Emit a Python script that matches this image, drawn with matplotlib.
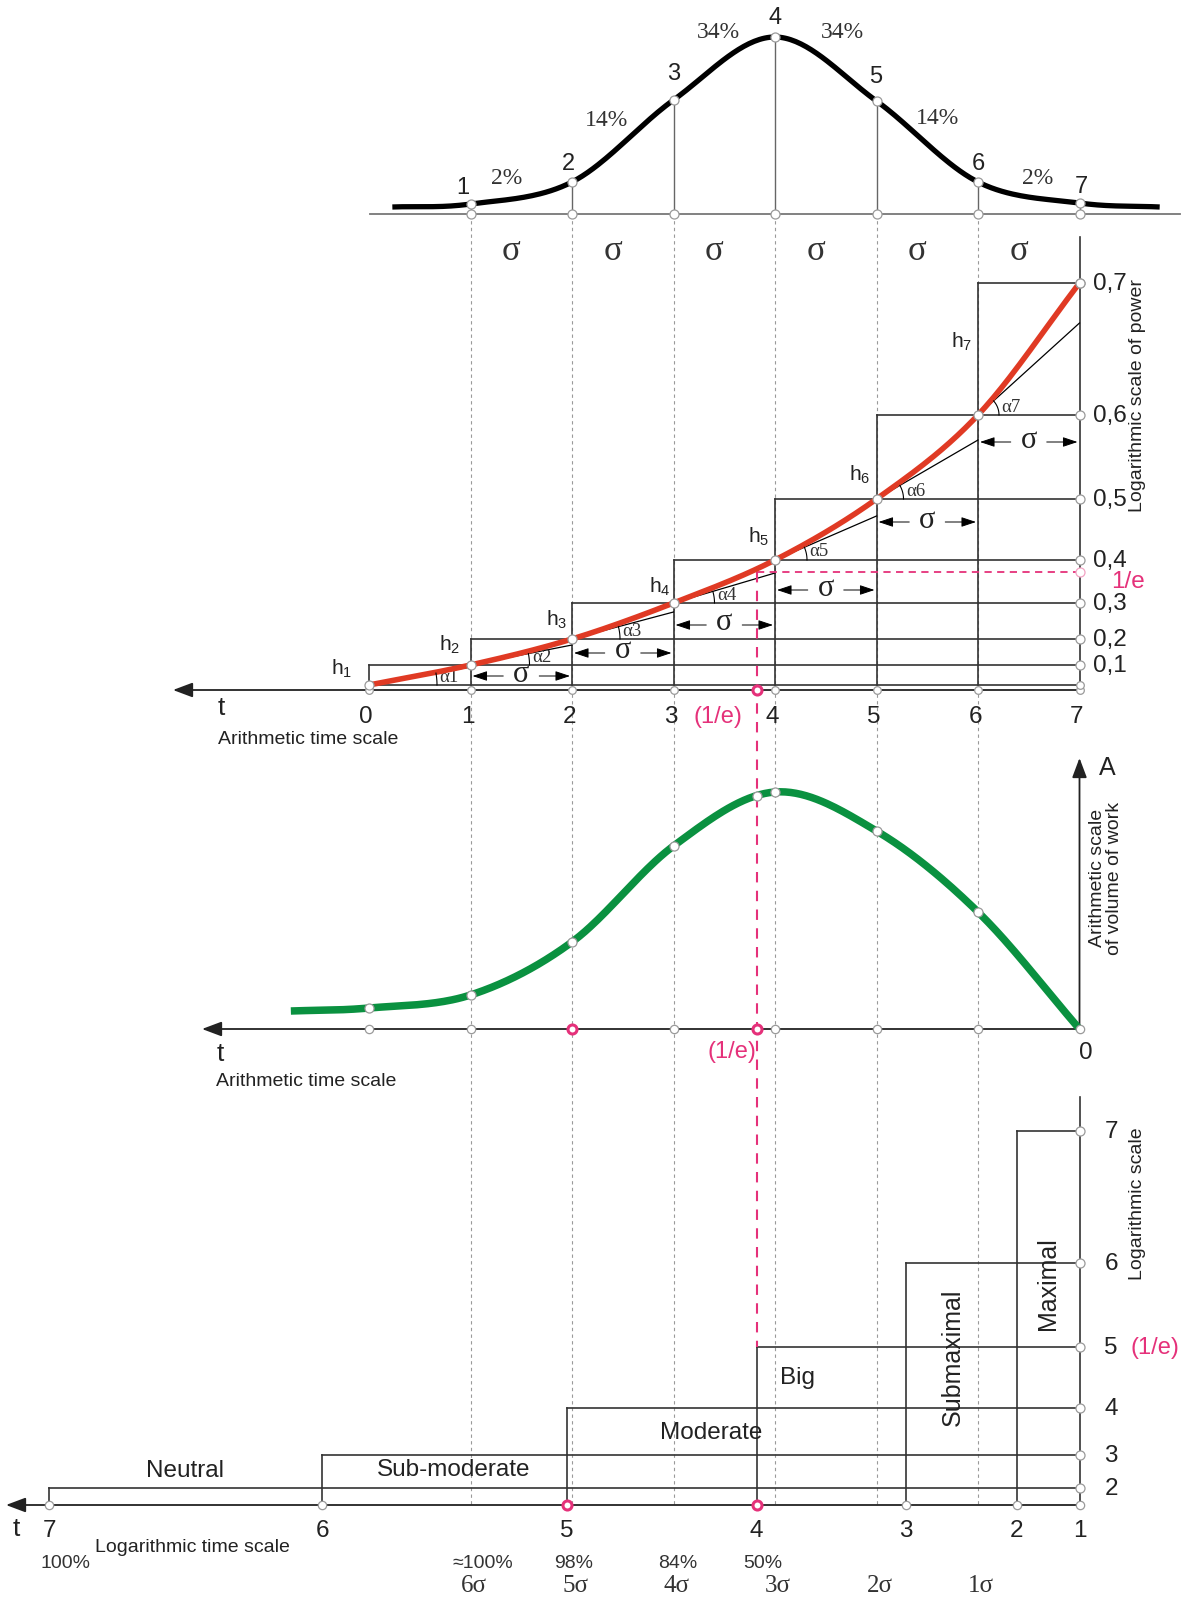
import numpy as np
import matplotlib
matplotlib.use("Agg")
import matplotlib.pyplot as plt

plt.rcParams['mathtext.fontset'] = 'custom'
plt.rcParams['mathtext.rm'] = 'Liberation Sans'
plt.rcParams['mathtext.it'] = 'Liberation Sans'

SANS = 'Liberation Sans'
SERIF = 'Liberation Serif'
PINK = '#e5317a'
LINE = '#333333'
GRID = '#9a9a9a'

# ---------------- data ----------------
# normal curve on top (time in sigma steps, height of the curve)
gauss_t = [0.23, 1, 2, 3, 4, 5, 6, 7, 7.79]
gauss_h = [7, 10, 32, 114, 177, 113, 32, 11, 7]
point_labels = ['1', '2', '3', '4', '5', '6', '7']
share_labels = ['2%', '14%', '34%', '34%', '14%', '2%']

# power on the logarithmic scale at t = 0..7
power_ticks = ['0,1', '0,2', '0,3', '0,4', '0,5', '0,6', '0,7']
power_h = [0, 20, 46, 82, 125, 186, 270, 402]
tangent_end = [18, 40, 73, 112, 169, 245, 362]   # tangent value at the next step
inv_e_t = 3.82
inv_e_h = 113

# volume of work (arithmetic scale)
work_t = [-0.77, 0, 1, 2, 3, 4, 5, 6, 7]
work_A = [18, 21, 34, 87, 183, 237, 198, 117, 0]

# logarithmic time scale at the bottom
log_labels = ['1', '2', '3', '4', '5', '6', '7']
log_pos = [0, 0.62, 1.71, 3.18, 5.05, 7.46, 10.15]      # in sigma units from the right end
log_level_h = [0, 17, 50, 97, 158, 242, 374]
zone_names = ['Neutral', 'Sub-moderate', 'Moderate', 'Big', 'Submaximal', 'Maximal']
pct_labels = ['\u2248100%', '98%', '84%', '50%']
sigma_labels = ['6\u03c3', '5\u03c3', '4\u03c3', '3\u03c3', '2\u03c3', '1\u03c3']

# ---------------- layout ----------------
T0, DT = 369, 101.5          # x of t=0 and one sigma in pixels
TOP_BASE = 214
PB = 685                      # base of the power staircase
PAX = 690                     # power time axis
MB = 1029                     # middle chart axis
BB = 1505                     # bottom axis


def X(t):
    return T0 + DT * np.asarray(t, dtype=float)


def XL(u):
    return X(7) - DT * np.asarray(u, dtype=float)


def catmull(xs, ys, n=40):
    p = np.column_stack([xs, ys]).astype(float)
    p = np.vstack([2 * p[0] - p[1], p, 2 * p[-1] - p[-2]])
    out = []
    s = np.linspace(0, 1, n)[:, None]
    for i in range(1, len(p) - 2):
        p0, p1, p2, p3 = p[i - 1], p[i], p[i + 1], p[i + 2]
        seg = 0.5 * (2 * p1 + (-p0 + p2) * s + (2 * p0 - 5 * p1 + 4 * p2 - p3) * s ** 2
                     + (-p0 + 3 * p1 - 3 * p2 + p3) * s ** 3)
        out.append(seg)
    return np.vstack(out)


def dot(x, y, edge='#9a9a9a', ms=6.5, mew=0.9, z=6):
    ax.plot(x, y, 'o', ms=ms, mfc='white', mec=edge, mew=mew, zorder=z, ls='none')


def arrow(x0, y0, x1, y1, hl=1.2, hw=0.45, lw=1.3, color='#222222', z=4):
    ax.annotate('', xy=(x1, y1), xytext=(x0, y0),
                arrowprops=dict(arrowstyle='-|>,head_length=%s,head_width=%s' % (hl, hw),
                                color=color, lw=lw, shrinkA=0, shrinkB=0), zorder=z)


fig = plt.figure(figsize=(11.84, 15.98), dpi=100)
ax = fig.add_axes([0, 0, 1, 1])
ax.set_xlim(0, 1184)
ax.set_ylim(1598, 0)
ax.axis('off')

# dotted guide lines through all panels
for k in range(1, 7):
    ax.plot([X(k), X(k)], [TOP_BASE, BB], color=GRID, lw=0.8, ls=(0, (3, 3)), zorder=1)

# ---------------- top: normal curve ----------------
ax.plot([370, 1180], [TOP_BASE, TOP_BASE], color='#777777', lw=1.3, zorder=2)
g = catmull(X(gauss_t), TOP_BASE - np.array(gauss_h))
ax.plot(g[:, 0], g[:, 1], color='black', lw=3.8, solid_capstyle='butt', zorder=3)
lab_off = [(-8, -16), (-4, -18), (0, -26), (0, -19), (-1, -24), (0, -18), (2, -16)]
for k in range(1, 8):
    yk = TOP_BASE - gauss_h[k]
    ax.plot([X(k), X(k)], [TOP_BASE, yk], color='#666666', lw=1.0, zorder=2)
    dot(X(k), yk)
    dot(X(k), TOP_BASE)
    dx, dy = lab_off[k - 1]
    ax.text(X(k) + dx, yk + dy, point_labels[k - 1], fontsize=17, family=SANS,
            ha='center', va='center', color='#222222')
share_pos = [(507, 178), (607, 120), (718, 32), (842, 33), (938, 118), (1038, 178)]
for (sx, sy), s in zip(share_pos, share_labels):
    ax.text(sx, sy, s, fontsize=17, family=SERIF, ha='center', va='center', color='#333333')
for k in range(1, 7):
    ax.text((X(k) + X(k + 1)) / 2 - 10, 252, '\u03c3', fontsize=25, family=SERIF,
            ha='center', va='center', color='#333333')

# ---------------- power chart ----------------
ax.plot([X(0), X(7)], [PB, PB], color=LINE, lw=1.2, zorder=2)
for k in range(1, 8):
    yk = PB - power_h[k]
    ax.plot([X(k - 1), X(k - 1)], [PB, yk], color=LINE, lw=1.2, zorder=2)
    ax.plot([X(k - 1), X(7)], [yk, yk], color=LINE, lw=1.2, zorder=2)
    ax.text(1093, yk + 1, power_ticks[k - 1], fontsize=17.5, family=SANS, ha='left',
            va='center', color='#222222')
    dot(X(7), yk)
ax.plot([X(7), X(7)], [237, PAX], color=LINE, lw=1.2, zorder=2)
arrow(X(7), PAX, 173, PAX)

# tangents
for k in range(7):
    ax.plot([X(k), X(k + 1)], [PB - power_h[k], PB - tangent_end[k]], color='black', lw=0.9, zorder=3)

# red curve
r = catmull(X(range(8)), PB - np.array(power_h))
ax.plot(r[:, 0], r[:, 1], color='#e03a24', lw=4.0, solid_capstyle='round', zorder=4)
for k in range(8):
    dot(X(k), PB - power_h[k], z=7)
    dot(X(k), PAX, ms=5.5)
dot(X(7), PB, ms=5.5)

# angle marks
alpha_off = [79, 70, 59, 52, 43, 38, 32]
for k in range(7):
    cx, cy = X(k), PB - power_h[k]
    ang = np.arctan2(tangent_end[k] - power_h[k], DT)
    rad = alpha_off[k] - 11
    th = np.linspace(0, ang, 20)
    ax.plot(cx + rad * np.cos(th), cy - rad * np.sin(th), color='black', lw=0.8, zorder=5)
    ax.text(cx + alpha_off[k] + 1, cy - 8, '\u03b1%d' % (k + 1), fontsize=13.5, family=SERIF,
            ha='center', va='center', color='#333333')

# h labels
h_pos = [(342, 669), (450, 645), (557, 620), (660, 587), (759, 537), (860, 475), (962, 342)]
for k, (hx, hy) in enumerate(h_pos):
    ax.text(hx, hy, 'h$_{%d}$' % (k + 1), fontsize=15, family=SANS, ha='center',
            va='center', color='#222222')

# sigma arrows
sig_y = [676, 653, 625, 590, 522, 442]
for k in range(1, 7):
    xa, xb = X(k) + 2, X(k + 1) - 2
    xm = (xa + xb) / 2
    y = sig_y[k - 1]
    ax.text(xm, y - 2, '\u03c3', fontsize=22, family=SERIF, ha='center', va='center', color='#222222')
    arrow(xm - 18, y, xa, y, hl=0.9, hw=0.3, lw=0.7, color='black')
    arrow(xm + 18, y, xb, y, hl=0.9, hw=0.3, lw=0.7, color='black')

# 1/e markers
ye = PB - inv_e_h
ax.plot([X(inv_e_t), X(7)], [ye, ye], color=PINK, lw=1.3, ls=(0, (4, 3)), zorder=3)
ax.plot([X(inv_e_t), X(inv_e_t)], [ye, BB - log_level_h[4]], color=PINK, lw=1.5,
        ls=(0, (5, 4)), zorder=3)
dot(X(7), ye, edge='#f2a3c3')
ax.text(1128, 582, '1/e', fontsize=17.5, family=SANS, ha='center', va='center', color=PINK)

# axis labels
for k in range(8):
    ax.text(X(k) - 3, 717, str(k), fontsize=17.5, family=SANS, ha='center', va='center', color='#222222')
ax.text(718, 717, '(1/e)', fontsize=17, family=SANS, ha='center', va='center', color=PINK)
ax.text(221, 708, 't', fontsize=19, family=SANS, ha='center', va='center', color='#222222')
ax.text(218, 739, 'Arithmetic time scale', fontsize=14, family=SANS, ha='left', va='center',
        color='#222222')
ax.text(1138, 396, 'Logarithmic scale of power', fontsize=14, family=SANS, rotation=90,
        ha='center', va='center', color='#222222')
dot(X(inv_e_t), PAX, edge=PINK, mew=2.2, ms=6.5, z=8)

# ---------------- middle chart: volume of work ----------------
arrow(X(7), MB, 202, MB)
arrow(X(7), MB, X(7), 758)
gcurve = catmull(X(work_t), MB - np.array(work_A))
ax.plot(gcurve[:, 0], gcurve[:, 1], color='#0a9140', lw=5.4, solid_capstyle='butt', zorder=4)
gx = X([0, 1, 2, 3, inv_e_t, 4, 5, 6])
gy = np.interp(gx, gcurve[:, 0], gcurve[:, 1])
for xx, yy in zip(gx, gy):
    dot(xx, yy, z=7)
for xx in X([0, 1, 3, 4, 5, 6, 7]):
    dot(xx, MB, ms=6)
dot(X(2), MB, edge=PINK, mew=2.2, ms=6.5, z=8)
dot(X(inv_e_t), MB, edge=PINK, mew=2.2, ms=6.5, z=8)
ax.text(1107, 768, 'A', fontsize=18, family=SANS, ha='center', va='center', color='#222222')
ax.text(1106, 878, 'Arithmetic scale\nof volume of work', fontsize=14, family=SANS,
        rotation=90, ha='center', va='center', linespacing=1.0, color='#222222')
ax.text(220, 1054, 't', fontsize=19, family=SANS, ha='center', va='center', color='#222222')
ax.text(216, 1082, 'Arithmetic time scale', fontsize=14, family=SANS, ha='left', va='center',
        color='#222222')
ax.text(732, 1052, '(1/e)', fontsize=17, family=SANS, ha='center', va='center', color=PINK)
ax.text(1086, 1053, '0', fontsize=17.5, family=SANS, ha='center', va='center', color='#222222')

# ---------------- bottom: zones on log time scale ----------------
ax.plot([X(7), X(7)], [1097, BB], color=LINE, lw=1.2, zorder=2)
arrow(X(7), BB, 6, BB)
for lv in range(2, 8):
    yk = BB - log_level_h[lv - 1]
    xs = XL(log_pos[9 - lv - 1])
    ax.plot([xs, xs], [BB, yk], color=LINE, lw=1.2, zorder=2)
    ax.plot([xs, X(7)], [yk, yk], color=LINE, lw=1.2, zorder=2)
    dot(X(7), yk)
    ax.text(1111, yk + 1, str(lv), fontsize=17.5, family=SANS, ha='center', va='center', color='#222222')
ax.text(1155, BB - log_level_h[4] + 1, '(1/e)', fontsize=17, family=SANS, ha='center',
        va='center', color=PINK)
ax.text(1138, 1204, 'Logarithmic scale', fontsize=14, family=SANS, rotation=90,
        ha='center', va='center', color='#222222')
for i, lab in enumerate(log_labels):
    xx = XL(log_pos[i])
    if lab in ('4', '5'):
        dot(xx, BB, edge=PINK, mew=2.2, ms=6.5, z=8)
    else:
        dot(xx, BB, ms=6)
    ax.text(xx, 1531, lab, fontsize=17.5, family=SANS, ha='center', va='center', color='#222222')
ax.text(16, 1529, 't', fontsize=19, family=SANS, ha='center', va='center', color='#222222')
ax.text(192, 1547, 'Logarithmic time scale', fontsize=14, family=SANS, ha='center',
        va='center', color='#222222')
ax.text(65, 1563, '100%', fontsize=14, family=SANS, ha='center', va='center', color='#333333')

zone_pos = [(185, 1471, 0, 17.5), (454, 1470, 0, 17.5), (711, 1433, 0, 17.5), (797, 1378, 0, 17.5),
            (953, 1357, 90, 18), (1048, 1284, 90, 18)]
for (zx, zy, rot, fs), name in zip(zone_pos, zone_names):
    ax.text(zx, zy, name, fontsize=fs, family=SANS, rotation=rot, ha='center', va='center',
            color='#222222')

pct_off = [12, 2, 4, -12]
for k, lab in enumerate(pct_labels):
    ax.text(X(k + 1) + pct_off[k], 1563, lab, fontsize=14, family=SANS, ha='center',
            va='center', color='#333333')
for k, lab in enumerate(sigma_labels):
    ax.text(X(k + 1) + 3, 1586, lab, fontsize=18, family=SERIF, ha='center', va='center',
            color='#333333')

fig.savefig('out.png', dpi=100, facecolor='white')
